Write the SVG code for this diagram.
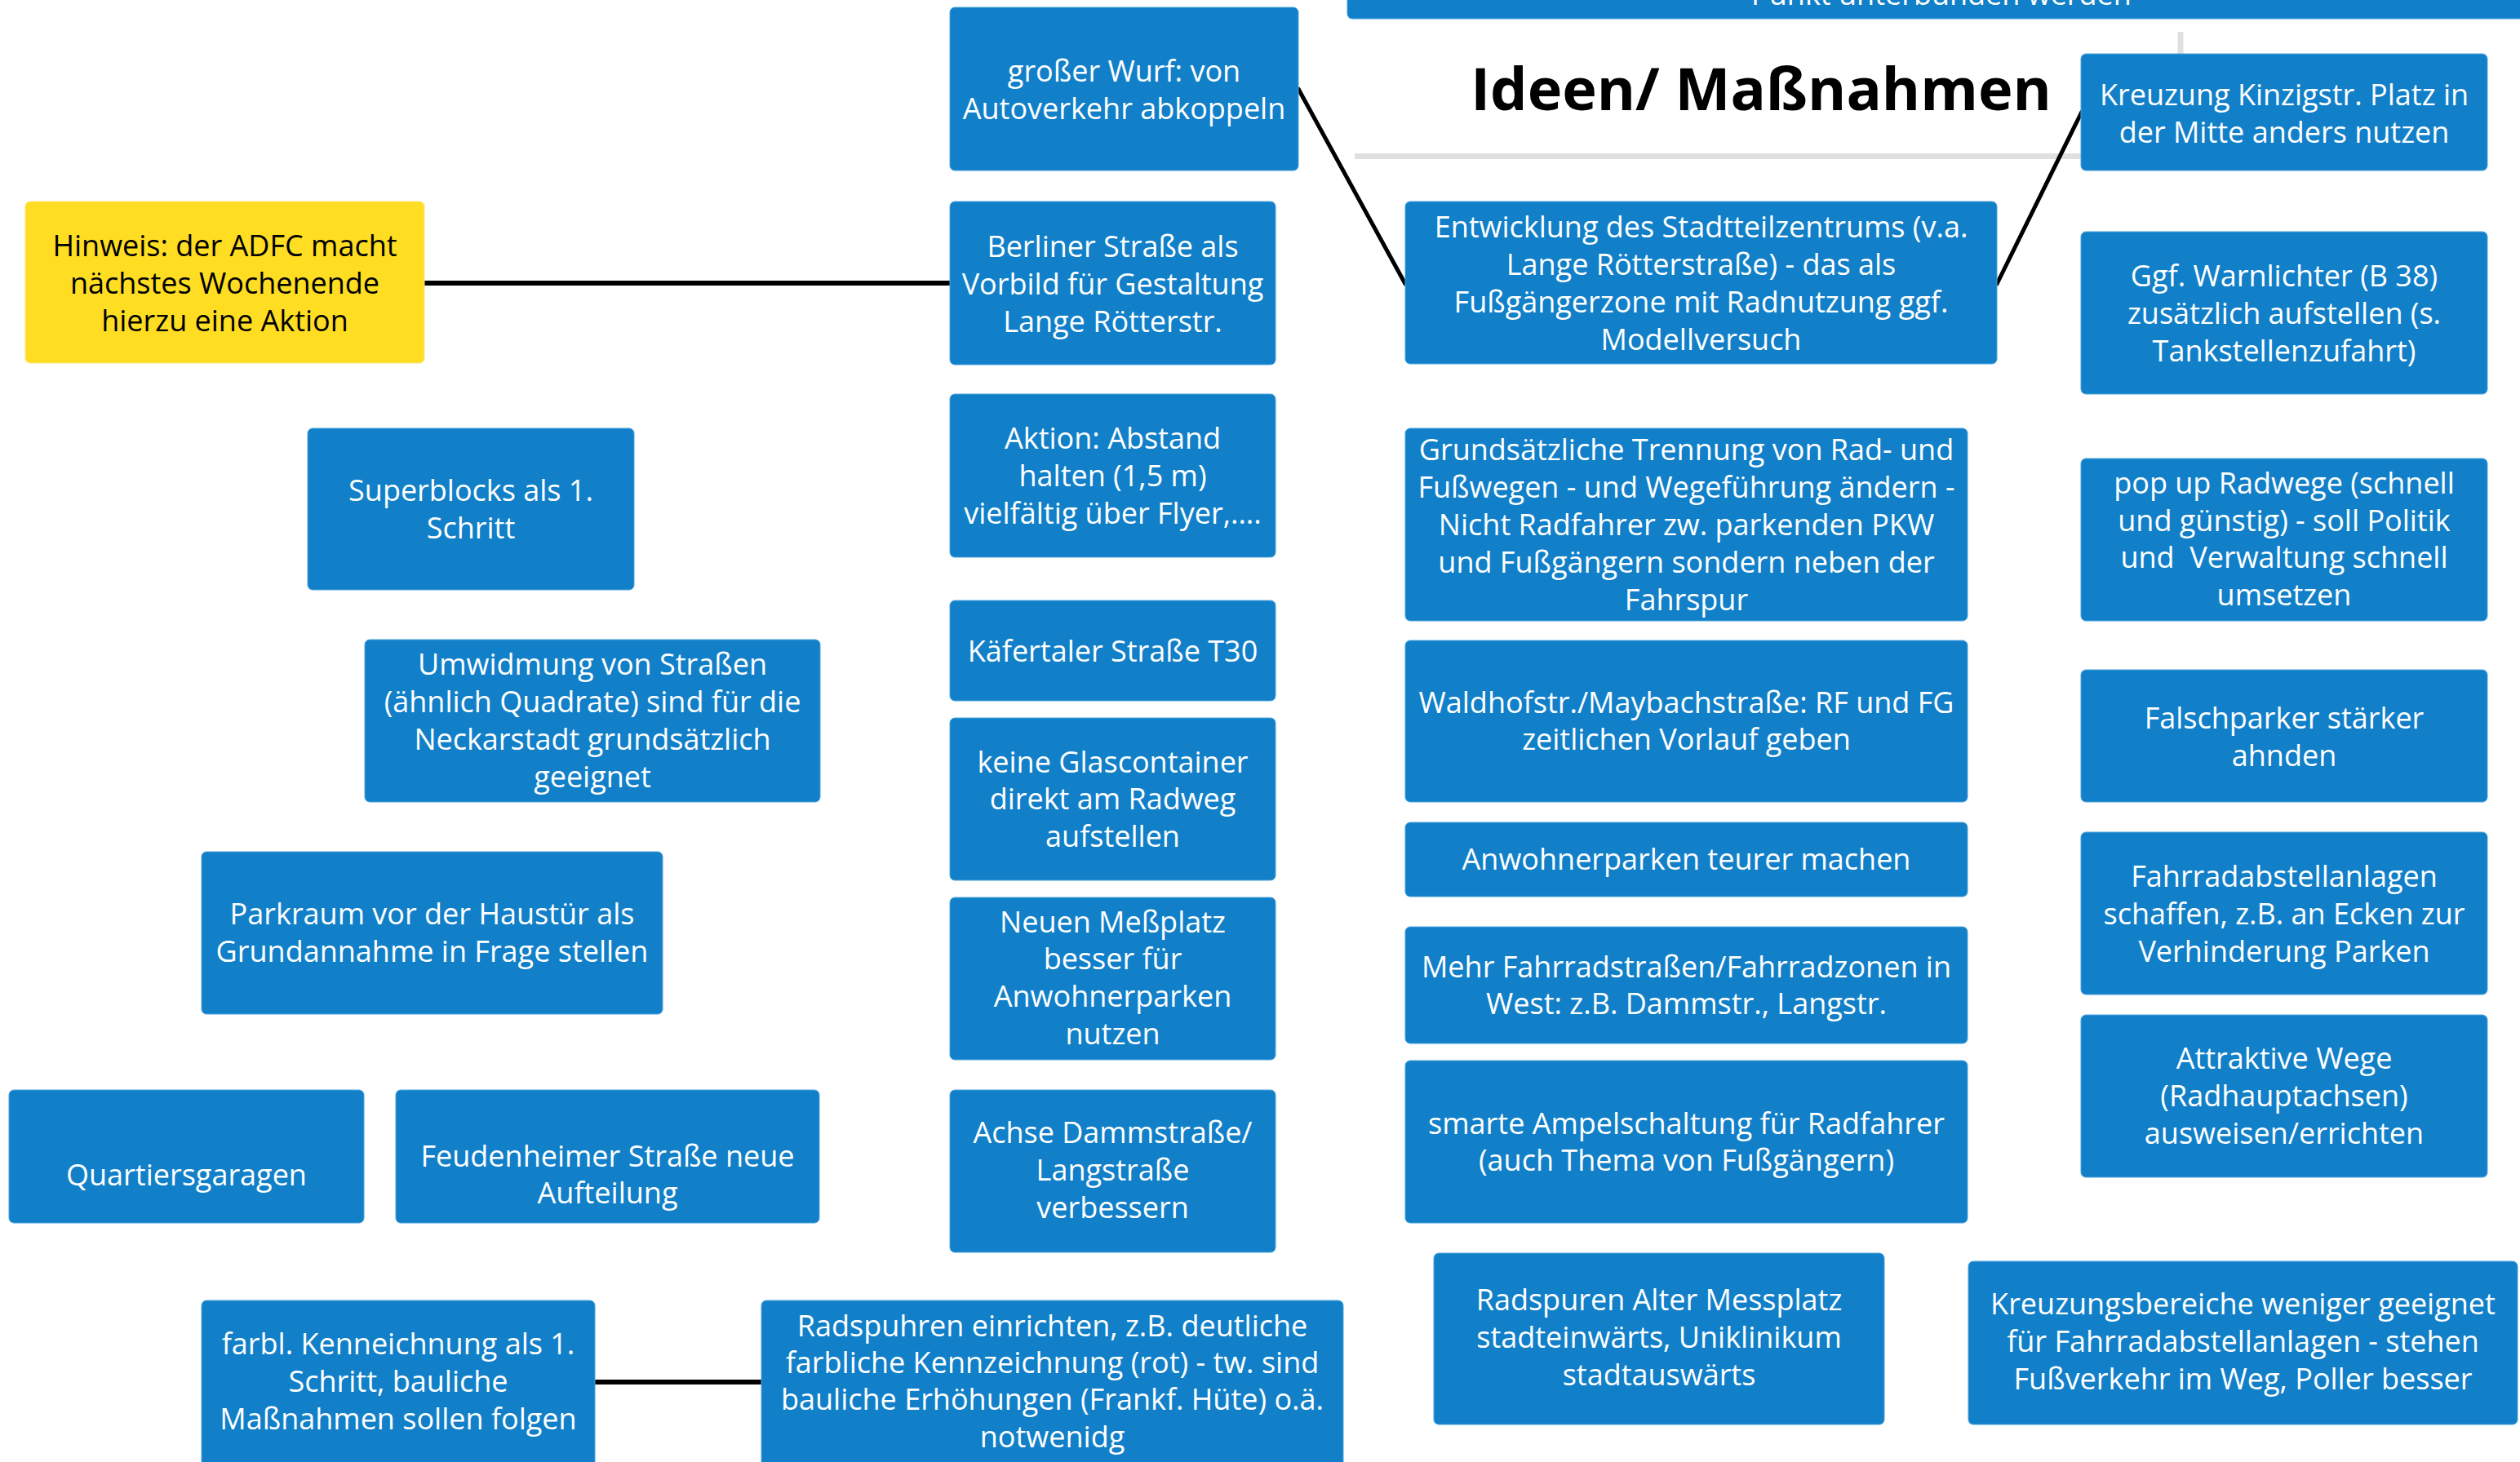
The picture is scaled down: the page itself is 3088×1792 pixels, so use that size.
<svg xmlns="http://www.w3.org/2000/svg" width="3088" height="1792" viewBox="0 0 3088 1792">
<style>
.b{fill:#1180c9;stroke:#4fa3dc;stroke-width:1}
.y{fill:#fedd22;stroke:#fde77a;stroke-width:1}
.t{font-family:"Open Sans","Noto Sans","Liberation Sans",sans-serif;font-size:36px;fill:#ffffff;text-anchor:middle}
.k{fill:#000000}
.c{stroke:#000000;stroke-linecap:round;fill:none}
.g{stroke:#e0e0e0;stroke-width:7;fill:none}
.title{font-family:"Open Sans","Noto Sans","Liberation Sans",sans-serif;font-size:72px;font-weight:bold;fill:#000000;text-anchor:middle}
</style>
<rect width="3088" height="1792" fill="#ffffff"/>
<g id="decor">
<line class="g" x1="1660" y1="191.5" x2="2550" y2="191.5"/>
<line class="g" x1="2672" y1="39" x2="2672" y2="66"/>
</g>
<g id="title"><text class="title" x="2158" y="135">Ideen/ Maßnahmen</text></g>
<g id="connectors">
<line class="c" stroke-width="6" x1="520" y1="347" x2="1164" y2="347"/>
<line class="c" stroke-width="5" x1="1591" y1="109" x2="1722" y2="348"/>
<line class="c" stroke-width="5" x1="2447" y1="348" x2="2551" y2="137"/>
<line class="c" stroke-width="6" x1="729" y1="1694" x2="933" y2="1694"/>
</g>
<g id="n-top"><rect class="b" x="1651" y="-40" width="1500" height="63" rx="6"/><text class="t" x="2379" y="6">Punkt unterbunden werden</text></g>
<g id="n-wurf"><rect class="b" x="1164" y="9" width="427" height="200" rx="6"/><text class="t" x="1377.5" y="100">großer Wurf: von</text><text class="t" x="1377.5" y="146">Autoverkehr abkoppeln</text></g>
<g id="n-kreuzung"><rect class="b" x="2550" y="66" width="498" height="143" rx="6"/><text class="t" x="2799" y="129">Kreuzung Kinzigstr. Platz in</text><text class="t" x="2799" y="175">der Mitte anders nutzen</text></g>
<g id="n-hinweis"><rect class="y" x="31" y="247" width="489" height="198" rx="6"/><text class="t k" x="275.5" y="314">Hinweis: der ADFC macht</text><text class="t k" x="275.5" y="360">nächstes Wochenende</text><text class="t k" x="275.5" y="406">hierzu eine Aktion</text></g>
<g id="n-berliner"><rect class="b" x="1164" y="247" width="399" height="200" rx="6"/><text class="t" x="1363.5" y="315">Berliner Straße als</text><text class="t" x="1363.5" y="361">Vorbild für Gestaltung</text><text class="t" x="1363.5" y="407">Lange Rötterstr.</text></g>
<g id="n-entwicklung"><rect class="b" x="1722" y="247" width="725" height="199" rx="6"/><text class="t" x="2084.5" y="291">Entwicklung des Stadtteilzentrums (v.a.</text><text class="t" x="2084.5" y="337">Lange Rötterstraße) - das als</text><text class="t" x="2084.5" y="383">Fußgängerzone mit Radnutzung ggf.</text><text class="t" x="2084.5" y="429">Modellversuch</text></g>
<g id="n-warnlichter"><rect class="b" x="2550" y="284" width="498" height="199" rx="6"/><text class="t" x="2799" y="351">Ggf. Warnlichter (B 38)</text><text class="t" x="2799" y="397">zusätzlich aufstellen (s.</text><text class="t" x="2799" y="443">Tankstellenzufahrt)</text></g>
<g id="n-superblocks"><rect class="b" x="377" y="525" width="400" height="198" rx="6"/><text class="t" x="577" y="614">Superblocks als 1.</text><text class="t" x="577" y="660">Schritt</text></g>
<g id="n-aktion"><rect class="b" x="1164" y="483" width="399" height="200" rx="6"/><text class="t" x="1363.5" y="550">Aktion: Abstand</text><text class="t" x="1363.5" y="596">halten (1,5 m)</text><text class="t" x="1363.5" y="642">vielfältig über Flyer,....</text></g>
<g id="n-grundsaetzlich"><rect class="b" x="1722" y="525" width="689" height="236" rx="6"/><text class="t" x="2066.5" y="564">Grundsätzliche Trennung von Rad- und</text><text class="t" x="2066.5" y="610">Fußwegen - und Wegeführung ändern -</text><text class="t" x="2066.5" y="656">Nicht Radfahrer zw. parkenden PKW</text><text class="t" x="2066.5" y="702">und Fußgängern sondern neben der</text><text class="t" x="2066.5" y="748">Fahrspur</text></g>
<g id="n-popup"><rect class="b" x="2550" y="562" width="498" height="199" rx="6"/><text class="t" x="2799" y="605">pop up Radwege (schnell</text><text class="t" x="2799" y="650.5">und günstig) - soll Politik</text><text class="t" x="2799" y="696" xml:space="preserve">und  Verwaltung schnell</text><text class="t" x="2799" y="741.5">umsetzen</text></g>
<g id="n-kaefertaler"><rect class="b" x="1164" y="736" width="399" height="123" rx="6"/><text class="t" x="1363.5" y="811">Käfertaler Straße T30</text></g>
<g id="n-umwidmung"><rect class="b" x="447" y="784" width="558" height="199" rx="6"/><text class="t" x="726" y="827">Umwidmung von Straßen</text><text class="t" x="726" y="873">(ähnlich Quadrate) sind für die</text><text class="t" x="726" y="919">Neckarstadt grundsätzlich</text><text class="t" x="726" y="965">geeignet</text></g>
<g id="n-waldhof"><rect class="b" x="1722" y="785" width="689" height="198" rx="6"/><text class="t" x="2066.5" y="874">Waldhofstr./Maybachstraße: RF und FG</text><text class="t" x="2066.5" y="919">zeitlichen Vorlauf geben</text></g>
<g id="n-falschparker"><rect class="b" x="2550" y="821" width="498" height="162" rx="6"/><text class="t" x="2799" y="892.5">Falschparker stärker</text><text class="t" x="2799" y="938.5">ahnden</text></g>
<g id="n-glas"><rect class="b" x="1164" y="880" width="399" height="199" rx="6"/><text class="t" x="1363.5" y="946.5">keine Glascontainer</text><text class="t" x="1363.5" y="992">direkt am Radweg</text><text class="t" x="1363.5" y="1038">aufstellen</text></g>
<g id="n-anwohner"><rect class="b" x="1722" y="1008" width="689" height="91" rx="6"/><text class="t" x="2066.5" y="1066">Anwohnerparken teurer machen</text></g>
<g id="n-parkraum"><rect class="b" x="247" y="1044" width="565" height="199" rx="6"/><text class="t" x="529.5" y="1133">Parkraum vor der Haustür als</text><text class="t" x="529.5" y="1178.5">Grundannahme in Frage stellen</text></g>
<g id="n-fahrradabstell"><rect class="b" x="2550" y="1020" width="498" height="199" rx="6"/><text class="t" x="2799" y="1087">Fahrradabstellanlagen</text><text class="t" x="2799" y="1133">schaffen, z.B. an Ecken zur</text><text class="t" x="2799" y="1179">Verhinderung Parken</text></g>
<g id="n-messplatz"><rect class="b" x="1164" y="1100" width="399" height="199" rx="6"/><text class="t" x="1363.5" y="1143">Neuen Meßplatz</text><text class="t" x="1363.5" y="1188">besser für</text><text class="t" x="1363.5" y="1234">Anwohnerparken</text><text class="t" x="1363.5" y="1280">nutzen</text></g>
<g id="n-mehr"><rect class="b" x="1722" y="1136" width="689" height="143" rx="6"/><text class="t" x="2066.5" y="1197.5">Mehr Fahrradstraßen/Fahrradzonen in</text><text class="t" x="2066.5" y="1243">West: z.B. Dammstr., Langstr.</text></g>
<g id="n-attraktiv"><rect class="b" x="2550" y="1244" width="498" height="199" rx="6"/><text class="t" x="2799" y="1310">Attraktive Wege</text><text class="t" x="2799" y="1356">(Radhauptachsen)</text><text class="t" x="2799" y="1402">ausweisen/errichten</text></g>
<g id="n-smarte"><rect class="b" x="1722" y="1300" width="689" height="199" rx="6"/><text class="t" x="2066.5" y="1390">smarte Ampelschaltung für Radfahrer</text><text class="t" x="2066.5" y="1435">(auch Thema von Fußgängern)</text></g>
<g id="n-quartier"><rect class="b" x="11" y="1336" width="435" height="163" rx="6"/><text class="t" x="228.5" y="1453">Quartiersgaragen</text></g>
<g id="n-feudenheimer"><rect class="b" x="485" y="1336" width="519" height="163" rx="6"/><text class="t" x="744.5" y="1430">Feudenheimer Straße neue</text><text class="t" x="744.5" y="1475">Aufteilung</text></g>
<g id="n-achse"><rect class="b" x="1164" y="1336" width="399" height="199" rx="6"/><text class="t" x="1363.5" y="1401">Achse Dammstraße/</text><text class="t" x="1363.5" y="1447">Langstraße</text><text class="t" x="1363.5" y="1493">verbessern</text></g>
<g id="n-radspuren"><rect class="b" x="1757" y="1536" width="552" height="210" rx="6"/><text class="t" x="2033" y="1606">Radspuren Alter Messplatz</text><text class="t" x="2033" y="1652">stadteinwärts, Uniklinikum</text><text class="t" x="2033" y="1698">stadtauswärts</text></g>
<g id="n-kreuzungsbereiche"><rect class="b" x="2412" y="1546" width="673" height="200" rx="6"/><text class="t" x="2748.5" y="1611">Kreuzungsbereiche weniger geeignet</text><text class="t" x="2748.5" y="1657">für Fahrradabstellanlagen - stehen</text><text class="t" x="2748.5" y="1703">Fußverkehr im Weg, Poller besser</text></g>
<g id="n-farbl"><rect class="b" x="247" y="1594" width="482" height="210" rx="6"/><text class="t" x="488" y="1660">farbl. Kenneichnung als 1.</text><text class="t" x="488" y="1706">Schritt, bauliche</text><text class="t" x="488" y="1752">Maßnahmen sollen folgen</text></g>
<g id="n-radspuhren"><rect class="b" x="933" y="1594" width="713" height="210" rx="6"/><text class="t" x="1289.5" y="1638">Radspuhren einrichten, z.B. deutliche</text><text class="t" x="1289.5" y="1683">farbliche Kennzeichnung (rot) - tw. sind</text><text class="t" x="1289.5" y="1728">bauliche Erhöhungen (Frankf. Hüte) o.ä.</text><text class="t" x="1289.5" y="1774">notwenidg</text></g>
</svg>
